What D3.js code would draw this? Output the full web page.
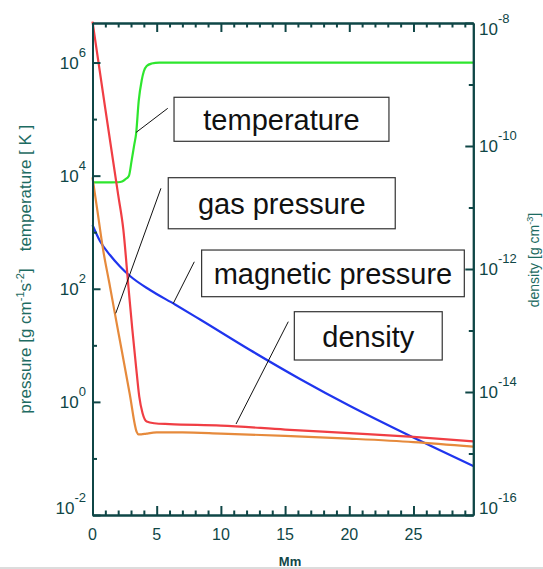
<!DOCTYPE html>
<html>
<head>
<meta charset="utf-8">
<script src="https://cdn.jsdelivr.net/npm/d3@7"></script>
<style>
  html, body { margin: 0; padding: 0; background: #fff; }
  svg { display: block; font-family: "Liberation Sans", Arial, Helvetica, sans-serif; }
</style>
</head>
<body>
<svg id="chart" width="543" height="569"></svg>
<script>
// distance along the loop [Mm] and the profiles
const tempX = [0, 1.5, 2.0, 2.3, 2.55, 2.84, 3.05, 3.25, 3.4, 3.6, 3.83, 4.0, 4.22, 4.6, 5.2, 10, 15, 20, 25, 29.66];
const tempK = [7600, 7600, 7650, 7900, 8600, 1.0e4, 1.86e4, 3.5e4, 5.6e4, 2.1e5, 4.8e5, 7.0e5, 8.7e5, 9.6e5, 1.0e6, 1.0e6, 1.0e6, 1.0e6, 1.0e6, 1.0e6];

const gasX = [0, 0.4, 0.84, 1.3, 1.75, 2.3, 2.9, 3.44, 3.57, 3.8, 4.2, 5, 7, 10, 15, 20, 25, 29.66];
const gasP = [9.3e3, 2.24e3, 4.7e2, 1.3e2, 36, 7.6, 1.38, 0.295, 0.266, 0.266, 0.275, 0.288, 0.288, 0.275, 0.251, 0.224, 0.195, 0.162];

const magX = [0, 0.58, 1.36, 2.14, 2.92, 4.48, 6.43, 8.38, 12.27, 16.16, 20.06, 23.95, 29.66];
const magP = [1.34e3, 6.98e2, 3.95e2, 2.48e2, 1.68e2, 95, 52.7, 28.6, 8.26, 2.54, 0.845, 0.305, 0.0734];

const densX = [0, 1, 2, 2.4, 2.8, 3.1, 3.4, 3.64, 3.9, 4.22, 4.8, 6, 10, 15, 20, 25, 29.66];
const densRho = [1.05e-8, 4.0e-10, 1.6e-11, 4.4e-12, 5.1e-13, 1.05e-13, 2.5e-14, 8.5e-15, 4.5e-15, 3.3e-15, 3.1e-15, 3.0e-15, 2.85e-15, 2.45e-15, 2.14e-15, 1.86e-15, 1.58e-15];

// ticks
const xMajor = [0, 5, 10, 15, 20, 25];
const xMinor = d3.range(1, 30).filter(d => d % 5 !== 0);
const leftExp = [-2, 0, 2, 4, 6];
const leftMinorExp = [-1, 1, 3, 5];
const rightExp = [-16, -14, -12, -10, -8];
const rightMinorExp = [-15, -13, -11, -9];

// annotation boxes, in Mm and left-axis units
const noteLabels = ['temperature', 'gas pressure', 'magnetic pressure', 'density'];
const noteX0 = [6.35, 5.90, 8.50, 15.72];
const noteX1 = [23.09, 23.58, 28.96, 27.24];
const noteTop = [2.43e5, 9.2e3, 4.84e2, 39.3];
const noteBottom = [4.05e4, 1.15e3, 72.4, 5.5];
const leadX0 = [5.86, 5.33, 7.93, 15.25];
const leadY0 = [1.55e5, 5.97e3, 3.0e2, 26.2];
const leadX1 = [3.39, 1.81, 6.29, 11.18];
const leadY1 = [5.8e4, 36.8, 55, 0.406];

const svg = d3.select('#chart');
const plotLeft = 92.5, plotRight = 473.3, plotTop = 23, plotBottom = 515;
const axisColor = '#0f4646';
const titleColor = '#1d6b62';

const x = d3.scaleLinear().domain([0, 29.66]).range([plotLeft, plotRight]);
const yL = d3.scaleLog().domain([1e-2, 5e6]).range([plotBottom, plotTop]);
const yR = d3.scaleLog().domain([1e-16, 1e-8]).range([plotBottom, plotTop]);

// curves
const series = [
    {xs: tempX, ys: tempK, scale: yL, color: '#2ee62e'},
    {xs: magX, ys: magP, scale: yL, color: '#1f35ee'},
    {xs: gasX, ys: gasP, scale: yL, color: '#e68a3c'},
    {xs: densX, ys: densRho, scale: yR, color: '#f03e44'},
];
series.forEach(s => {
    const line = d3.line()
        .x(d => x(d[0]))
        .y(d => s.scale(d[1]))
        .curve(d3.curveMonotoneX);
    svg.append('path')
        .datum(s.xs.map((v, i) => [v, s.ys[i]]))
        .attr('d', line)
        .attr('fill', 'none')
        .attr('stroke', s.color)
        .attr('stroke-width', 2.2)
        .attr('stroke-linejoin', 'round');
});

// axes, ticks pointing inwards
function drawAxis(axis, transform, size) {
    const g = svg.append('g')
        .attr('transform', transform)
        .call(axis.tickSize(size).tickSizeOuter(0).tickFormat(''));
    g.selectAll('path, line').attr('stroke', axisColor).attr('stroke-width', 2);
    return g;
}
const pow = e => Math.pow(10, e);

drawAxis(d3.axisBottom(x).tickValues(xMajor), `translate(0,${plotBottom})`, -9);
drawAxis(d3.axisBottom(x).tickValues(xMinor), `translate(0,${plotBottom})`, -4.5);
drawAxis(d3.axisTop(x).tickValues(xMajor), `translate(0,${plotTop})`, -9);
drawAxis(d3.axisTop(x).tickValues(xMinor), `translate(0,${plotTop})`, -4.5);
drawAxis(d3.axisLeft(yL).tickValues(leftExp.map(pow)), `translate(${plotLeft},0)`, -8);
drawAxis(d3.axisLeft(yL).tickValues(leftMinorExp.map(pow)), `translate(${plotLeft},0)`, -4.5);
drawAxis(d3.axisRight(yR).tickValues(rightExp.map(pow)), `translate(${plotRight},0)`, -8);
drawAxis(d3.axisRight(yR).tickValues(rightMinorExp.map(pow)), `translate(${plotRight},0)`, -4.5);

// tick labels
svg.append('g').selectAll('text')
    .data(xMajor)
    .join('text')
    .attr('x', d => x(d))
    .attr('y', 540)
    .attr('text-anchor', 'middle')
    .attr('font-size', 16)
    .attr('fill', axisColor)
    .text(d => d);

function powerLabels(exps, scale, xPos, anchor) {
    const t = svg.append('g').selectAll('text')
        .data(exps)
        .join('text')
        .attr('x', xPos)
        .attr('y', e => Math.max(plotTop + 6, Math.min(plotBottom - 7, scale(pow(e)))) + 6)
        .attr('text-anchor', anchor)
        .attr('font-size', 17)
        .attr('fill', axisColor);
    t.append('tspan').text('10');
    t.append('tspan')
        .attr('font-size', 13)
        .attr('dy', -12)
        .text(e => e < 0 ? '-' + (-e) : e);
}
powerLabels(leftExp, yL, 86, 'end');
powerLabels(rightExp, yR, 479, 'start');

// axis titles
svg.append('text')
    .attr('x', 290)
    .attr('y', 566)
    .attr('text-anchor', 'middle')
    .attr('font-size', 13)
    .attr('font-weight', 'bold')
    .attr('fill', axisColor)
    .text('Mm');

function rotatedTitle(cx, cy, size, parts) {
    const t = svg.append('text')
        .attr('transform', `translate(${cx},${cy}) rotate(-90)`)
        .attr('text-anchor', 'middle')
        .attr('font-size', size)
        .attr('fill', titleColor);
    parts.forEach(p => {
        const sp = t.append('tspan').text(p.text);
        if (p.sup) sp.attr('font-size', size * 0.65).attr('dy', -size * 0.4);
        if (p.down) sp.attr('dy', size * 0.4);
    });
}
rotatedTitle(31, 341, 17, [
    {text: 'pressure [g cm'}, {text: '-1', sup: true}, {text: 's', down: true},
    {text: '-2', sup: true}, {text: ']', down: true}
]);
rotatedTitle(31, 188, 17, [{text: 'temperature [ K ]'}]);
rotatedTitle(539, 260, 14, [{text: 'density [g cm'}, {text: '-3', sup: true}, {text: ']', down: true}]);

// annotations
const notes = svg.append('g');
noteLabels.forEach((label, i) => {
    notes.append('line')
        .attr('x1', x(leadX0[i])).attr('y1', yL(leadY0[i]))
        .attr('x2', x(leadX1[i])).attr('y2', yL(leadY1[i]))
        .attr('stroke', '#111')
        .attr('stroke-width', 1);
    const bx = x(noteX0[i]), bw = x(noteX1[i]) - bx;
    const by = yL(noteTop[i]), bh = yL(noteBottom[i]) - by;
    notes.append('rect')
        .attr('x', bx).attr('y', by)
        .attr('width', bw).attr('height', bh)
        .attr('fill', '#fff')
        .attr('stroke', '#333')
        .attr('stroke-width', 1.2);
    notes.append('text')
        .attr('x', bx + bw / 2)
        .attr('y', by + bh / 2 + 11)
        .attr('text-anchor', 'middle')
        .attr('font-size', 29)
        .attr('fill', '#111')
        .text(label);
});

// faint frame edge at the bottom of the slide
svg.append('rect')
    .attr('x', 0).attr('y', 567)
    .attr('width', 543).attr('height', 2)
    .attr('fill', '#dcdcdc');
</script>
</body>
</html>
